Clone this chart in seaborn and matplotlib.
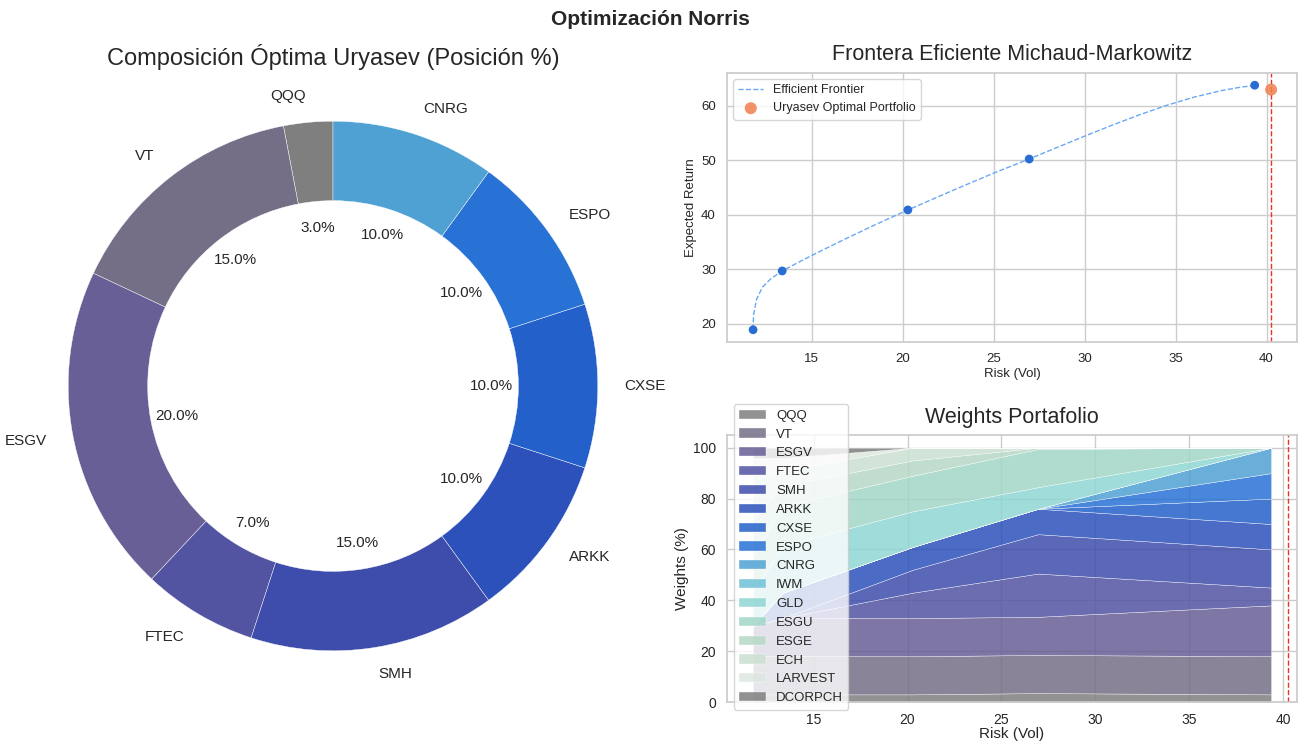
import numpy as np
import matplotlib
matplotlib.use('Agg')
import matplotlib.pyplot as plt
import seaborn as sns

# tickers (stack order, bottom -> top)
tickers = ['QQQ', 'VT', 'ESGV', 'FTEC', 'SMH', 'ARKK', 'CXSE', 'ESPO', 'CNRG',
           'IWM', 'GLD', 'ESGU', 'ESGE', 'ECH', 'LARVEST', 'DCORPCH']

# Uryasev optimal portfolio (%), first nine tickers
opt_tickers = ['QQQ', 'VT', 'ESGV', 'FTEC', 'SMH', 'ARKK', 'CXSE', 'ESPO', 'CNRG']
opt_weights = [3, 15, 20, 7, 15, 10, 10, 10, 10]

# frontier portfolios
frontier_risk = [11.77, 13.37, 20.28, 26.95, 39.35]
frontier_ret = [18.9, 29.7, 40.9, 50.25, 63.8]

# efficient frontier curve
curve_risk = [11.76, 11.8, 11.96, 12.28, 12.72, 13.37, 14.24, 15.33, 16.85, 18.59,
              20.28, 22.93, 25.1, 26.95, 28.5, 30.0, 31.5, 33.0, 34.5, 36.0,
              37.5, 38.5, 39.35]
curve_ret = [18.9, 21.7, 24.5, 26.7, 28.2, 29.7, 31.25, 33.1, 35.6, 38.35,
             40.9, 44.75, 47.8, 50.25, 52.4, 54.45, 56.45, 58.35, 60.1, 61.6,
             62.8, 63.4, 63.8]

uryasev_risk = 40.25
uryasev_ret = 63.0

# weights (%) at each frontier portfolio
w_qqq = [3, 3, 3, 3.5, 3]
w_vt = [15, 15, 15, 15, 15]
w_esgv = [12, 15, 15, 15, 20]
w_ftec = [0, 0, 10, 17, 7]
w_smh = [0, 0, 9, 15.5, 15]
w_arkk = [0, 10, 9, 10, 10]
w_cxse = [0, 0, 0, 0, 10]
w_espo = [0, 0, 0, 0, 10]
w_cnrg = [0, 0, 0, 0, 10]
w_iwm = [0, 0, 0, 0, 0]
w_gld = [13, 18.5, 14, 8.5, 0]
w_esgu = [14, 15.5, 14, 15, 0]
w_esge = [15, 8, 6, 0.5, 0]
w_ech = [15, 6, 5, 0, 0]
w_larvest = [9, 5, 0, 0, 0]
w_dcorpch = [4, 4, 0, 0, 0]

weights = [w_qqq, w_vt, w_esgv, w_ftec, w_smh, w_arkk, w_cxse, w_espo, w_cnrg,
           w_iwm, w_gld, w_esgu, w_esge, w_ech, w_larvest, w_dcorpch]

palette = ['#7f7f7f', '#746e86', '#675f95', '#5254a2', '#3e4dab', '#2c51bb',
           '#2460c9', '#2872d5', '#4fa1d3', '#6fc1d6', '#8fd6d3', '#a2d6c8',
           '#b5d8c6', '#cbe0d2', '#dde7e0', '#7f7f7f']

sns.set_theme(style='whitegrid')
plt.rcParams['font.family'] = ['Liberation Sans', 'DejaVu Sans']

W, H = 1300, 742
fig = plt.figure(figsize=(W / 100, H / 100), dpi=100)
fig.suptitle('Optimización Norris', fontsize=15, fontweight='bold', y=0.986)

# donut
cx, cy, half = 333, 386, 331
ax_pie = fig.add_axes([(cx - half) / W, (H - cy - half) / H, 2 * half / W, 2 * half / H])
ax_pie.pie(opt_weights, labels=opt_tickers, colors=palette[:9], autopct='%1.1f%%',
           startangle=90, wedgeprops=dict(width=0.3, edgecolor='white', linewidth=0.3),
           textprops=dict(fontsize=11, color='#262626'))
ax_pie.set_title('Composición Óptima Uryasev (Posición %)', fontsize=17, y=0.985, pad=0)

# frontier
ax1 = fig.add_axes([727 / W, (H - 342) / H, 570 / W, 269 / H])
sns.lineplot(x=curve_risk, y=curve_ret, ax=ax1, color='#6aa8f5', linestyle='--',
             linewidth=1, label='Efficient Frontier')
sns.scatterplot(x=frontier_risk, y=frontier_ret, ax=ax1, color='#2a6dd2', s=40,
                edgecolor='none', zorder=3)
sns.scatterplot(x=[uryasev_risk], y=[uryasev_ret], ax=ax1, color='#f07f4f', s=75,
                alpha=0.85, edgecolor='none', zorder=4, label='Uryasev Optimal Portfolio')
ax1.axvline(uryasev_risk, color='#e8322a', linestyle='--', linewidth=1)
ax1.set_title('Frontera Eficiente Michaud-Markowitz', fontsize=15.5, pad=9)
ax1.set_xlabel('Risk (Vol)', fontsize=9.5, labelpad=2)
ax1.set_ylabel('Expected Return', fontsize=9.5, labelpad=3)
ax1.tick_params(labelsize=9.5, pad=2)
ax1.legend(loc='upper left', fontsize=9)

# weights stack
ax2 = fig.add_axes([727 / W, (H - 702) / H, 570 / W, 267 / H])
ax2.stackplot(frontier_risk, *weights, labels=tickers, colors=palette, alpha=0.85,
              edgecolor='white', linewidth=0.3)
span = max(frontier_risk) - min(frontier_risk)
ax2.set_xlim(min(frontier_risk) - 0.05 * span, max(frontier_risk) + 0.05 * span)
ax2.set_ylim(0, 105)
ax2.axvline(uryasev_risk, color='#e8322a', linestyle='--', linewidth=1)
ax2.set_title('Weights Portafolio', fontsize=15.5, pad=9)
ax2.set_xlabel('Risk (Vol)', fontsize=11, labelpad=0)
ax2.set_ylabel('Weights (%)', fontsize=11, labelpad=3)
ax2.tick_params(labelsize=10, pad=2)
ax2.legend(loc='upper left', bbox_to_anchor=(0.012, 1.115), borderaxespad=0,
           fontsize=9.5, labelspacing=0.5)

fig.savefig('out.png', dpi=100)
